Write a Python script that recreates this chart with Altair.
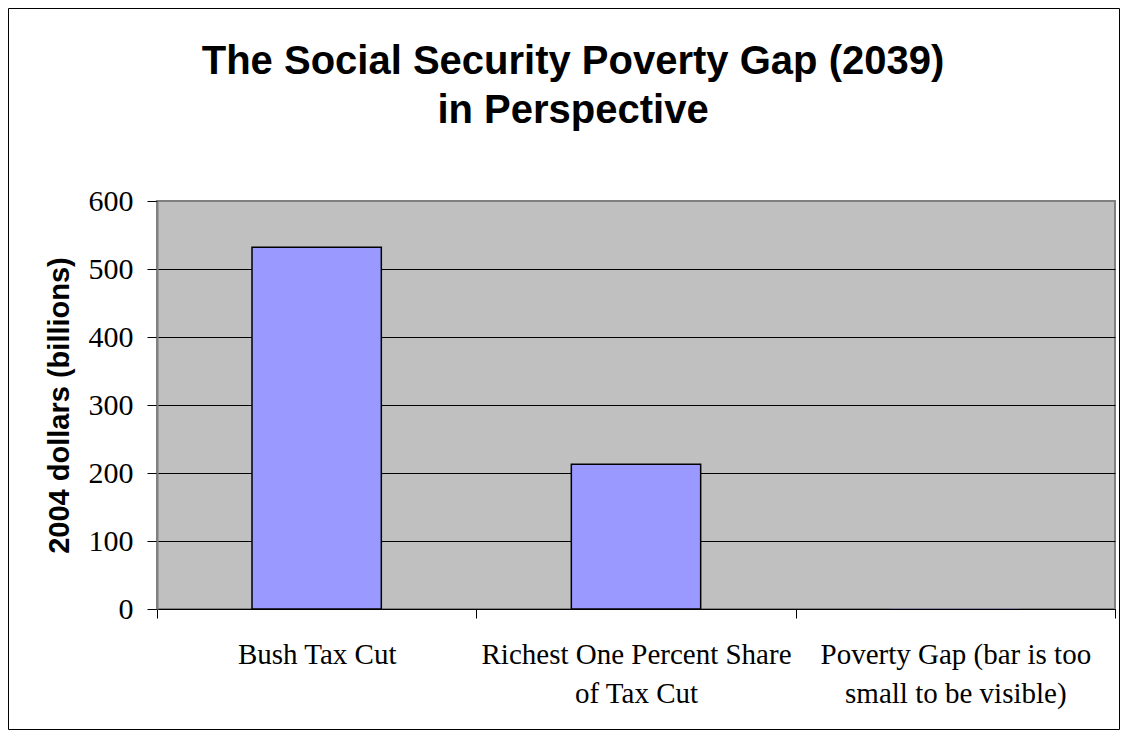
import altair as alt
import pandas as pd

categories = [
    "Bush Tax Cut",
    "Richest One Percent Share of Tax Cut",
    "Poverty Gap (bar is too small to be visible)",
]
label_lines = [
    ["Bush Tax Cut"],
    ["Richest One Percent Share", "of Tax Cut"],
    ["Poverty Gap (bar is too", "small to be visible)"],
]
values = [532, 213, 0.4]
y_ticks = [0, 100, 200, 300, 400, 500, 600]

df = pd.DataFrame({"category": categories, "value": values})

# label expression producing multi-line labels
expr = "datum.value"
for cat, lines in reversed(list(zip(categories, label_lines))):
    arr = "[" + ",".join("'" + l + "'" for l in lines) + "]"
    expr = f"datum.value == '{cat}' ? {arr} : ({expr})"

PLOT_W = 958
PLOT_H = 408

bars = alt.Chart(df).mark_bar(
    width=alt.RelativeBandSize(0.405),
    fill="#9999FF",
    strokeWidth=1.5,
).encode(
    x=alt.X(
        "category:N",
        sort=categories,
        scale=alt.Scale(paddingInner=0, paddingOuter=0),
        title=None,
        axis=alt.Axis(
            labelExpr=expr,
            labelAngle=0,
            labelFont="Liberation Serif",
            labelFontSize=29,
            labelColor="black",
            labelLineHeight=39,
            labelLimit=500,
            labelPadding=22,
            tickBand="extent",
            tickSize=9,
            tickColor="black",
            domainColor="black",
            domainWidth=1,
            grid=False,
        ),
    ),
    y=alt.Y(
        "value:Q",
        scale=alt.Scale(domain=[0, 600], nice=False),
        title="2004 dollars (billions)",
        axis=alt.Axis(
            values=y_ticks,
            labelFont="Liberation Serif",
            labelFontSize=30,
            labelColor="black",
            labelPadding=14,
            tickSize=10,
            tickColor="black",
            domainColor="#808080",
            domainWidth=2,
            grid=True,
            gridColor={"condition": {"test": "datum.value == 600", "value": "#808080"}, "value": "black"},
            gridWidth=1,
            titleFont="Liberation Sans",
            titleFontSize=29,
            titleFontWeight="bold",
            titleColor="black",
            titleAngle=270,
            titleAlign="center",
            titleBaseline="middle",
            titleX=-98,
            titleY=PLOT_H / 2,
        ),
    ),
    stroke=alt.condition("datum.value > 1", alt.value("black"), alt.value("transparent")),
)

frame_df = pd.DataFrame({"f": [0]})
frame = alt.Chart(frame_df).mark_rect(
    fillOpacity=0, stroke="black", strokeWidth=1
).encode(
    x=alt.value(-148.5),
    x2=alt.value(PLOT_W + 4.5),
    y=alt.value(-192.5),
    y2=alt.value(528.5),
)

chart = alt.layer(frame, bars).properties(
    width=PLOT_W,
    height=PLOT_H,
    padding={"left": 149, "top": 193, "right": 5, "bottom": 121},
    autosize=alt.AutoSizeParams(type="none"),
    background="white",
    title=alt.TitleParams(
        text=["The Social Security Poverty Gap (2039)", "in Perspective"],
        font="Liberation Sans",
        fontSize=40,
        fontWeight="bold",
        color="black",
        anchor="middle",
        baseline="alphabetic",
        lineHeight=49,
        dx=-63,
        offset=-155,
    ),
).configure_view(
    fill="#C0C0C0",
    stroke="#808080",
    strokeWidth=2,
)

chart.save("out.html", embed_options={"renderer": "svg", "actions": False})
